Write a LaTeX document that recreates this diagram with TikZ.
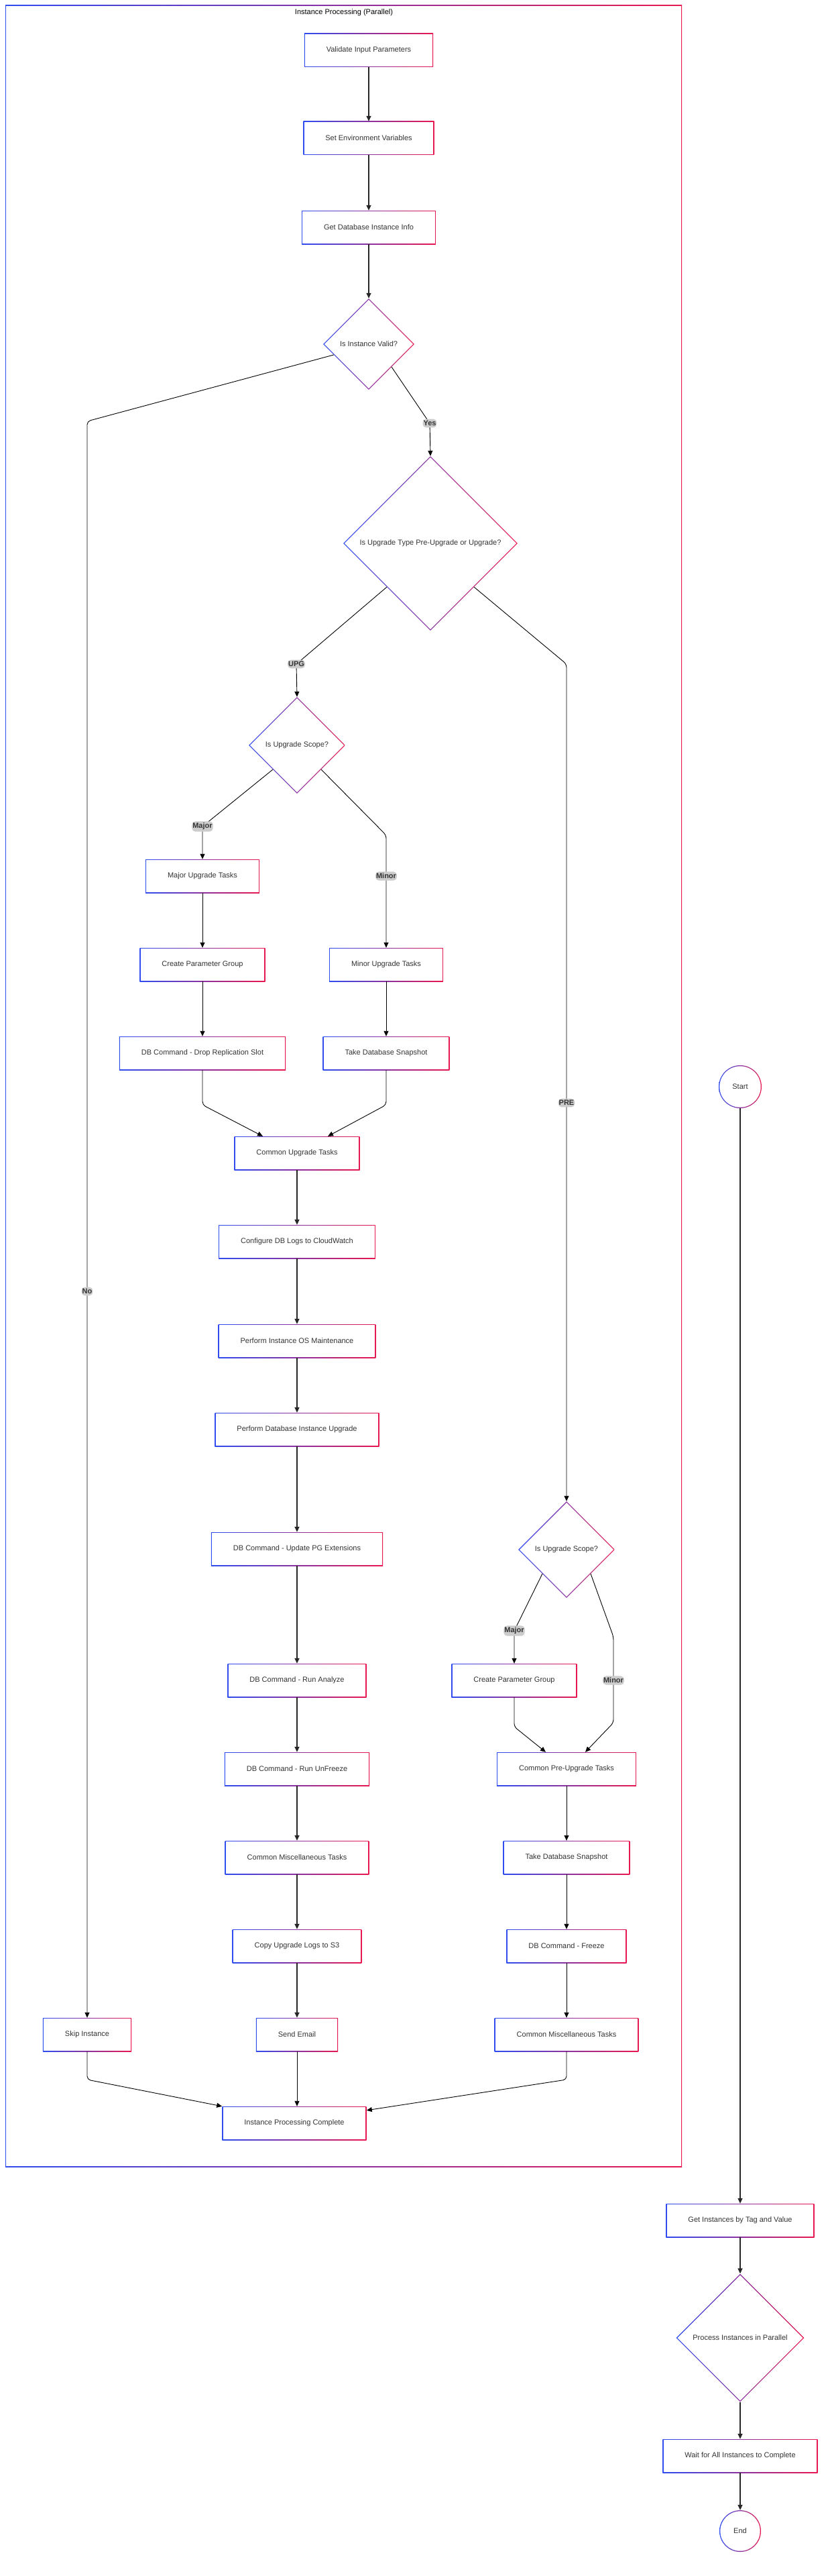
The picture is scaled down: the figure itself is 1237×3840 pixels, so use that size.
\documentclass[tikz,border=0pt]{standalone}
\usepackage{fontspec}
\setmainfont{Liberation Sans}
\usetikzlibrary{shapes.geometric,arrows.meta}
\definecolor{gradA}{HTML}{2F4CF0}
\definecolor{gradB}{HTML}{E8174F}
\definecolor{txt}{HTML}{333333}
\definecolor{lblbg}{HTML}{CCCCCC}
\tikzset{
  rimbox/.style={path picture={
    \shade[left color=gradA, right color=gradB] (path picture bounding box.south west) rectangle (path picture bounding box.north east);
    \fill[white] ([shift={(#1,#1)}]path picture bounding box.south west) rectangle ([shift={(-#1,-#1)}]path picture bounding box.north east);}},
  rimask/.style={path picture={
    \shade[left color=gradA, right color=gradB] (path picture bounding box.south west) rectangle (path picture bounding box.north east);
    \fill[white] ([xshift=1.9pt]path picture bounding box.west) -- ([yshift=-1.9pt]path picture bounding box.north)
      -- ([xshift=-1.9pt]path picture bounding box.east) -- ([yshift=1.9pt]path picture bounding box.south) -- cycle;}},
  rimring/.style={path picture={
    \shade[left color=gradA, right color=gradB] (path picture bounding box.south west) rectangle (path picture bounding box.north east);
    \fill[white] (path picture bounding box.center) circle[radius=#1/2-1.3pt];}},
  task/.style={rectangle, rimbox=1.3pt, text=txt, inner xsep=33pt,
    minimum height=50pt, font=\fontsize{11}{13}\selectfont},
  ask/.style={diamond, rimask, text=txt, inner sep=0pt,
    minimum size=#1, font=\fontsize{11}{13}\selectfont},
  term/.style={circle, rimring=#1, text=txt, inner sep=0pt,
    minimum size=#1, font=\fontsize{11}{13}\selectfont},
  flow/.style={-{Triangle[length=8pt,width=7pt]}, line width=1.4pt, draw=black!85},
  link/.style={-{Triangle[length=8pt,width=7pt]}, line width=0.9pt, rounded corners=5pt},
  lbl/.style={fill=lblbg, text=txt, font=\bfseries\fontsize{11}{13}\selectfont,
    inner xsep=1pt, inner ysep=2.5pt}
}
\begin{document}
\begin{tikzpicture}[x=1pt,y=-1pt]
\useasboundingbox (0,0) rectangle (1237,3840);

% parallel branch frame
\path[rimbox=1pt] (8,8) rectangle (1017,3230);
\node(title)[font=\fontsize{11}{13}\selectfont] at (513,19) {Instance Processing (Parallel)};

\node(chk)[task] at (550,75) {Validate Input Parameters};
\node(env)[task] at (550,206) {Set Environment Variables};
\node(info)[task] at (550,339) {Get Database Instance Info};
\node(valid)[ask=136pt] at (550,513) {Is Instance Valid?};
\node(type)[ask=260pt] at (642,810) {Is Upgrade Type Pre-Upgrade or Upgrade?};
\node(scope)[ask=144pt] at (443,1111) {Is Upgrade Scope?};

\node(major)[task] at (302,1306) {Major Upgrade Tasks};
\node(param)[task] at (302,1438) {Create Parameter Group};
\node(drop)[task] at (302,1570) {DB Command - Drop Replication Slot};
\node(minor)[task] at (576,1438) {Minor Upgrade Tasks};
\node(snap)[task] at (576,1570) {Take Database Snapshot};

\node(common)[task] at (443,1719) {Common Upgrade Tasks};
\node(logs)[task] at (443,1851) {Configure DB Logs to CloudWatch};
\node(os)[task] at (443,1999) {Perform Instance OS Maintenance};
\node(pgup)[task] at (443,2131) {Perform Database Instance Upgrade};
\node(ext)[task] at (443,2309) {DB Command - Update PG Extensions};
\node(analyze)[task] at (443,2505) {DB Command - Run Analyze};
\node(unfreeze)[task] at (443,2637) {DB Command - Run UnFreeze};
\node(misc)[task] at (443,2769) {Common Miscellaneous Tasks};
\node(s3)[task] at (443,2901) {Copy Upgrade Logs to S3};
\node(email)[task] at (443,3033) {Send Email};

\node(scopep)[ask=144pt] at (845,2310) {Is Upgrade Scope?};
\node(paramp)[task] at (767,2505) {Create Parameter Group};
\node(pre)[task] at (845,2637) {Common Pre-Upgrade Tasks};
\node(snapp)[task] at (845,2769) {Take Database Snapshot};
\node(freeze)[task] at (845,2901) {DB Command - Freeze};
\node(miscp)[task] at (845,3033) {Common Miscellaneous Tasks};

\node(skip)[task] at (130,3033) {Skip Instance};
\node(done)[task] at (439,3165) {Instance Processing Complete};

% main run
\node(start)[term=64pt] at (1104,1620) {Start};
\node(tagged)[task] at (1104,3310) {Get Instances by Tag and Value};
\node(par)[ask=191pt] at (1104,3485) {Process Instances in Parallel};
\node(wait)[task] at (1104,3661) {Wait for All Instances to Complete};
\node(stop)[term=62pt] at (1104,3773) {End};

\foreach \a/\b in {chk/env,info/valid,env/info,common/logs,logs/os,os/pgup,pgup/ext,ext/analyze,analyze/unfreeze,unfreeze/misc,misc/s3,s3/email,start/tagged,tagged/par,par/wait,wait/stop}
  \draw[flow] (\a) -- (\b);
\foreach \a/\b in {major/param,param/drop,minor/snap,pre/snapp,snapp/freeze,freeze/miscp}
  \draw[link] (\a) -- (\b);

\draw[link] (email.south) -- (email.south |- done.north);
\draw[link] (valid.south east) -- (641,631) node[lbl]{Yes} -- (type.north);
\draw[link] (valid.197) -- (130,628) -- (130,1925) node[lbl]{No} -- (skip.north);
\draw[link] (type.south west) -- (442,990) node[lbl]{UPG} -- (scope.north);
\draw[link] (type.south east) -- (845,990) -- (845,1644) node[lbl]{PRE} -- (scopep.north);

\draw[link] (scope.south west) -- (302,1232) node[lbl]{Major} -- (major.north);
\draw[link] (scope.south east) -- (576,1245) -- (576,1306) node[lbl]{Minor} -- (minor.north);
\draw[link] (drop.south) -- (302,1647) -- ([xshift=-51pt]common.north);
\draw[link] (snap.south) -- (576,1647) -- ([xshift=46pt]common.north);

\draw[link] (scopep.south west) -- (767,2431) node[lbl]{Major} -- (paramp.north);
\draw[link] (scopep.south east) -- (915,2440) -- (915,2505) node[lbl]{Minor} -- (915,2568) -- ([xshift=28pt]pre.north);
\draw[link] (paramp.south) -- (767,2574) -- ([xshift=-31pt]pre.north);

\draw[link] (skip.south) -- (130,3100) -- (done.north west);
\draw[link] (miscp.south) -- (845,3100) -- ([yshift=-6pt]done.north east);

\end{tikzpicture}
\end{document}
